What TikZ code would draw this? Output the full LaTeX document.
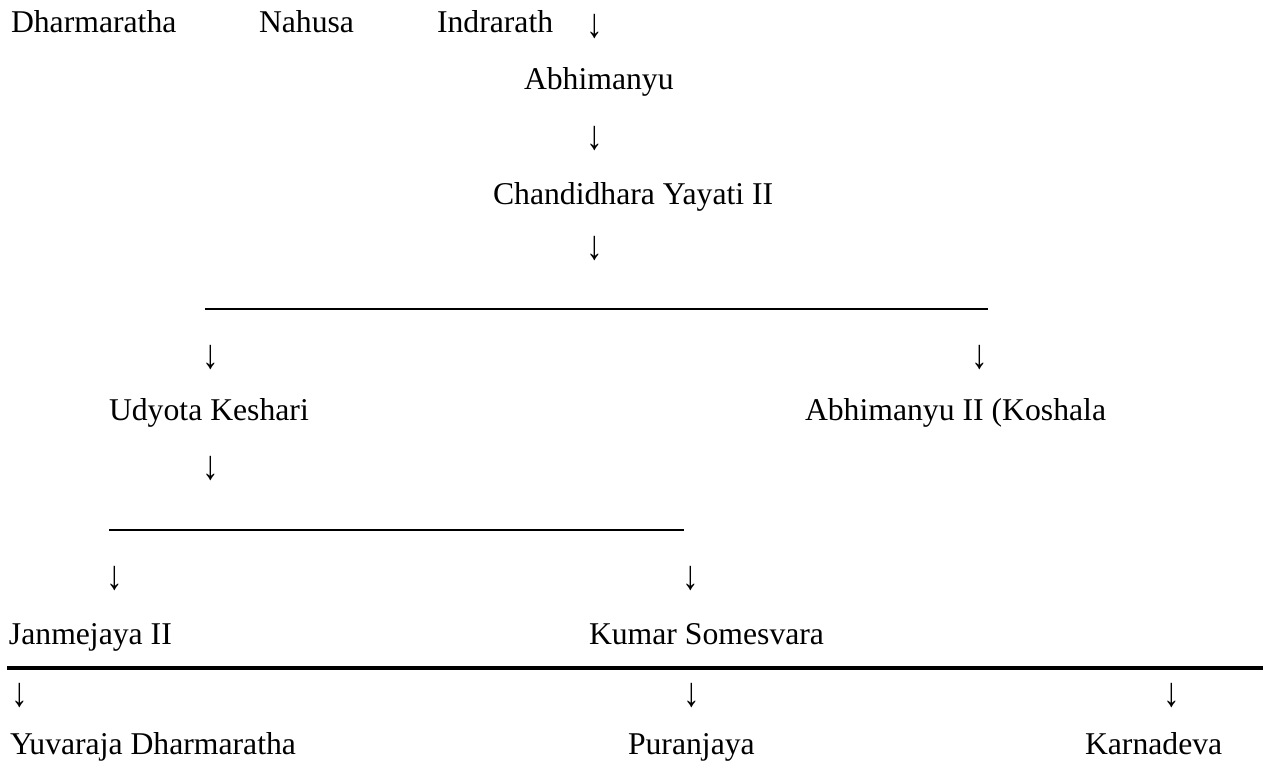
\documentclass[tikz,border=0pt]{standalone}
\usepackage{fontspec}
\usepackage{graphicx}
\setmainfont{Liberation Serif}
\newcommand{\mydownarr}{\scalebox{1.05}[1.3]{↓}}
\begin{document}
\begin{tikzpicture}[x=1pt,y=-1pt,
  lbl/.style={anchor=base west,inner sep=0pt,outer sep=0pt,font=\fontsize{31.7}{38}\selectfont},
  arr/.style={anchor=base,inner sep=0pt,outer sep=0pt,font=\fontsize{31.7}{38}\selectfont},
  rule/.style={line width=1.2pt},
  thickrule/.style={line width=3.6pt}]
\useasboundingbox (0,0) rectangle (1263,761);
% row 1
\node[lbl] (dh) at (11,32) {Dharmaratha};
\node[lbl] (na) at (259,32) {Nahusa};
\node[lbl] (in) at (437,32) {Indrarath};
\node[arr] (a1) at (595,37) {\mydownarr};
\node[lbl] (ab) at (524,89) {Abhimanyu};
\node[arr] (a2) at (595,149) {\mydownarr};
\node[lbl] (ch) at (493,204) {Chandidhara Yayati II};
\node[arr] (a3) at (595,259) {\mydownarr};
% first bracket line
\coordinate (l1a) at (205,309);
\coordinate (l1b) at (988,309);
\draw[rule] (l1a) -- (l1b);
\node[arr] (a4) at (211,368) {\mydownarr};
\node[arr] (a5) at (980,368) {\mydownarr};
\node[lbl] (ud) at (109,420) {Udyota Keshari};
\node[lbl] (ab2) at (805,420) {Abhimanyu II (Koshala};
\node[arr] (a6) at (211,479) {\mydownarr};
% second bracket line
\coordinate (l2a) at (109,530);
\coordinate (l2b) at (684,530);
\draw[rule] (l2a) -- (l2b);
\node[arr] (a7) at (115,589) {\mydownarr};
\node[arr] (a8) at (691,589) {\mydownarr};
\node[lbl] (ja) at (9,644) {Janmejaya II};
\node[lbl] (ku) at (589,644) {Kumar Somesvara};
% thick line
\coordinate (l3a) at (7,668);
\coordinate (l3b) at (1263,668);
\draw[thickrule] (l3a) -- (l3b);
\node[arr] (a9) at (20,706) {\mydownarr};
\node[arr] (a10) at (692,706) {\mydownarr};
\node[arr] (a11) at (1172,706) {\mydownarr};
\node[lbl] (yu) at (10,754) {Yuvaraja Dharmaratha};
\node[lbl] (pu) at (628,754) {Puranjaya};
\node[lbl] (ka) at (1085,754) {Karnadeva};
\end{tikzpicture}
\end{document}
